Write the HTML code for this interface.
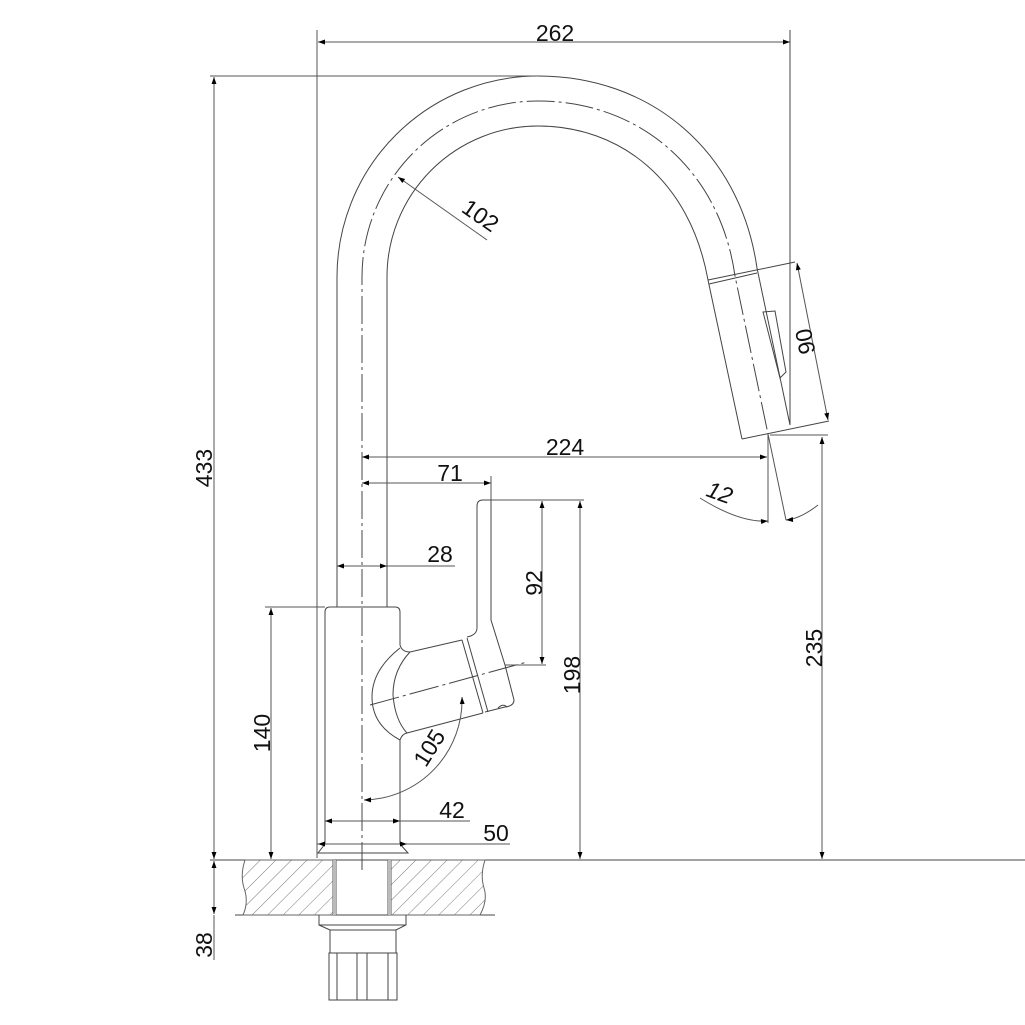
<!DOCTYPE html>
<html><head><meta charset="utf-8"><style>html,body{margin:0;padding:0;background:#fff}svg{display:block}text{font-family:"Liberation Sans",sans-serif;fill:#111}</style></head>
<body>
<svg width="1025" height="1025" viewBox="0 0 1025 1025" xmlns="http://www.w3.org/2000/svg">
<defs>
<marker id="a" viewBox="0 0 10 10" refX="10" refY="5" markerWidth="14" markerHeight="7" markerUnits="userSpaceOnUse" orient="auto-start-reverse"><path d="M0,1.5L10,5L0,8.5z" fill="#000"/></marker>
<pattern id="h" width="11" height="11" patternUnits="userSpaceOnUse" patternTransform="rotate(45)"><line x1="0" y1="0" x2="0" y2="11" stroke="#555" stroke-width="0.8"/></pattern>
</defs>
<g fill="none" stroke="#444" stroke-width="1">
<path d="M337,607 V277 A201,201 0 0 1 538,76 C650,76 740,150 757,268 L790,425"/>
<path d="M387,607 V277 A151,151 0 0 1 538,126 C620,126 690,180 708,280 L742,439"/>
<path d="M362,870 V277 A176,176 0 0 1 538,101 C640,101 720,170 735,276 L768,434" stroke-dasharray="28,4,3,4"/>
<path d="M708,280 L795,262 M709,284 L757,273"/>
<path d="M742,439 L829,421"/>
<path d="M763,312 L775,311 L786,372 L780,378 Z"/>
<line x1="790" y1="30" x2="790" y2="425"/>
<path d="M325,844 V612 Q325,607 330,607 H395 Q400,607 400,612 V645 Q402,652 410,652 L462,640"/>
<path d="M400,740 Q402,734 407,733 L483,713 M400,740 V844"/>
<path d="M400,648 Q372,670 372,697 Q372,725 400,740"/>
<path d="M410,652 Q393,670 393,695 Q395,720 407,733"/>
<path d="M462,640 L483,713 M467,638 L488,712"/>
<path d="M467,637 Q477,635 477,628 V506 Q477,500 483,500 H491 V620 L505,665 L514,700 Q514,706 505,707 L485,712"/>
<path d="M498,708 Q503,703 507,707"/>
<path d="M325,844 L318,853 H408 L400,844 Z"/>
<line x1="370" y1="705" x2="527" y2="662" stroke-dasharray="30,4,3,4"/>
<line x1="210" y1="860" x2="1025" y2="860"/>
<line x1="235" y1="915" x2="495" y2="915"/>
<path d="M245,860 Q240,875 244,888 Q249,902 243,915 H333 V860 Z M390,860 V915 H480 Q488,900 484,888 Q480,875 485,860 Z" fill="url(#h)" stroke="#666"/>
<path d="M333,860 V915 M336,860 V915 M388,860 V915 M391,860 V915" stroke="#555"/>
<path d="M333,860 V915 H336 V860Z M388,860 V915 H391 V860Z" fill="#bbb" stroke="none"/>
<path d="M319,915 V925 L330,930 H396 L406,925 V915"/>
<path d="M319,925 H406"/>
<path d="M330,930 V953 M396,930 V953"/>
<path d="M329,953 H397 V1000 H329 Z M337,953 V1000 M357,953 V1000 M367,953 V1000 M388,953 V1000"/>
</g>
<g fill="none" stroke="#555" stroke-width="1">
<line x1="317" y1="30" x2="317" y2="858"/>
<line x1="318" y1="42" x2="790" y2="42" marker-start="url(#a)" marker-end="url(#a)"/>
<line x1="210" y1="76" x2="538" y2="76"/>
<line x1="214" y1="77" x2="214" y2="859" marker-start="url(#a)" marker-end="url(#a)"/>
<line x1="398" y1="177" x2="487" y2="240" marker-start="url(#a)"/>
<line x1="797" y1="263" x2="828" y2="420" marker-start="url(#a)" marker-end="url(#a)"/>
<line x1="362" y1="457" x2="767" y2="457" marker-start="url(#a)" marker-end="url(#a)"/>
<line x1="768" y1="434" x2="768" y2="523"/>
<line x1="768" y1="434" x2="786" y2="520"/>
<path d="M700,498 Q740,523 768,521" marker-end="url(#a)"/>
<path d="M818,505 Q800,519 786,520" marker-end="url(#a)"/>
<line x1="770" y1="435" x2="828" y2="435"/>
<line x1="822" y1="437" x2="822" y2="859" marker-start="url(#a)" marker-end="url(#a)"/>
<line x1="362" y1="483" x2="491" y2="483" marker-start="url(#a)" marker-end="url(#a)"/>
<line x1="491" y1="476" x2="491" y2="500"/>
<line x1="491" y1="500" x2="584" y2="500"/>
<line x1="542" y1="501" x2="542" y2="664" marker-start="url(#a)" marker-end="url(#a)"/>
<line x1="505" y1="665" x2="546" y2="665"/>
<line x1="580" y1="501" x2="580" y2="859" marker-start="url(#a)" marker-end="url(#a)"/>
<line x1="337" y1="566" x2="455" y2="566"/>
<line x1="352" y1="566" x2="337" y2="566" marker-end="url(#a)"/>
<line x1="372" y1="566" x2="387" y2="566" marker-end="url(#a)"/>
<line x1="265" y1="607" x2="325" y2="607"/>
<line x1="271" y1="608" x2="271" y2="859" marker-start="url(#a)" marker-end="url(#a)"/>
<path d="M462,697 A100,100 0 0 1 364,800" marker-start="url(#a)" marker-end="url(#a)"/>
<line x1="325" y1="821" x2="470" y2="821"/>
<line x1="340" y1="821" x2="325" y2="821" marker-end="url(#a)"/>
<line x1="385" y1="821" x2="400" y2="821" marker-end="url(#a)"/>
<line x1="317" y1="844" x2="510" y2="844"/>
<line x1="333" y1="844" x2="318" y2="844" marker-end="url(#a)"/>
<line x1="392" y1="844" x2="407" y2="844" marker-end="url(#a)"/>
<line x1="214" y1="861" x2="214" y2="914" marker-start="url(#a)" marker-end="url(#a)"/>
<line x1="214" y1="915" x2="214" y2="960"/>
</g>
<g font-size="23">
<text x="555" y="41" text-anchor="middle">262</text>
<text transform="translate(212,468) rotate(-90)" text-anchor="middle">433</text>
<text transform="translate(476,222) rotate(35)" text-anchor="middle">102</text>
<text transform="translate(813,340) rotate(-101)" text-anchor="middle">90</text>
<text x="565" y="455" text-anchor="middle">224</text>
<text x="450" y="481" text-anchor="middle">71</text>
<text x="440" y="562" text-anchor="middle">28</text>
<text transform="translate(542,583) rotate(-90)" text-anchor="middle">92</text>
<text transform="translate(580,675) rotate(-90)" text-anchor="middle">198</text>
<text transform="translate(822,648) rotate(-90)" text-anchor="middle">235</text>
<text transform="translate(717,500) rotate(20)" text-anchor="middle" font-style="italic">12</text>
<text transform="translate(270,733) rotate(-90)" text-anchor="middle">140</text>
<text transform="translate(436,752) rotate(-58)" text-anchor="middle">105</text>
<text x="452" y="818" text-anchor="middle">42</text>
<text x="496" y="841" text-anchor="middle">50</text>
<text transform="translate(212,945) rotate(-90)" text-anchor="middle">38</text>
</g>
</svg>
</body></html>
